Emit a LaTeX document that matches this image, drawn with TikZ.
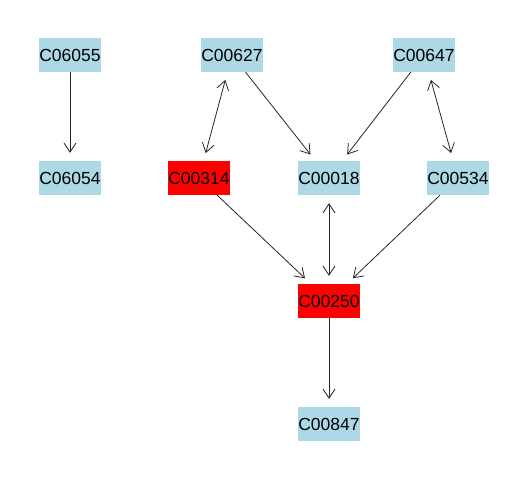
\documentclass[tikz,border=0pt]{standalone}
\usepackage{fontspec}
\setmainfont{Liberation Sans}
\usetikzlibrary{arrows.meta}
\definecolor{compblue}{RGB}{173,216,230}
\definecolor{compred}{RGB}{255,0,0}
\begin{document}
\begin{tikzpicture}[x=1pt,y=-1pt,
  compound/.style={rectangle, fill=compblue, minimum width=62pt, minimum height=34pt,
    inner sep=0pt, font=\fontsize{17.5}{20}\selectfont},
  hit/.style={compound, fill=compred},
  link/.style={draw=black!85, line width=0.8pt, shorten >=8pt,
    -{Straight Barb[length=9pt,width=12pt]}},
  bilink/.style={link, shorten <=8pt,
    {Straight Barb[length=9pt,width=12pt]}-{Straight Barb[length=9pt,width=12pt]}}]
  \useasboundingbox (0,0) rectangle (528,480);

  \node[compound] (c06055) at (70,55)  {C06055};
  \node[compound] (c06054) at (70,178) {C06054};
  \node[compound] (c00627) at (232,55) {C00627};
  \node[compound] (c00647) at (424,55) {C00647};
  \node[hit]      (c00314) at (199,178) {C00314};
  \node[compound] (c00018) at (329,178) {C00018};
  \node[compound] (c00534) at (458,178) {C00534};
  \node[hit]      (c00250) at (329,301) {C00250};
  \node[compound] (c00847) at (329,424) {C00847};

  \draw[link]   (c06055) -- (c06054);
  \draw[bilink] (c00627) -- (c00314);
  \draw[link]   (c00627) -- (c00018);
  \draw[link]   (c00647) -- (c00018);
  \draw[bilink] (c00647) -- (c00534);
  \draw[link]   (c00314) -- (c00250);
  \draw[bilink] (c00018) -- (c00250);
  \draw[link]   (c00534) -- (c00250);
  \draw[link]   (c00250) -- (c00847);
\end{tikzpicture}
\end{document}
